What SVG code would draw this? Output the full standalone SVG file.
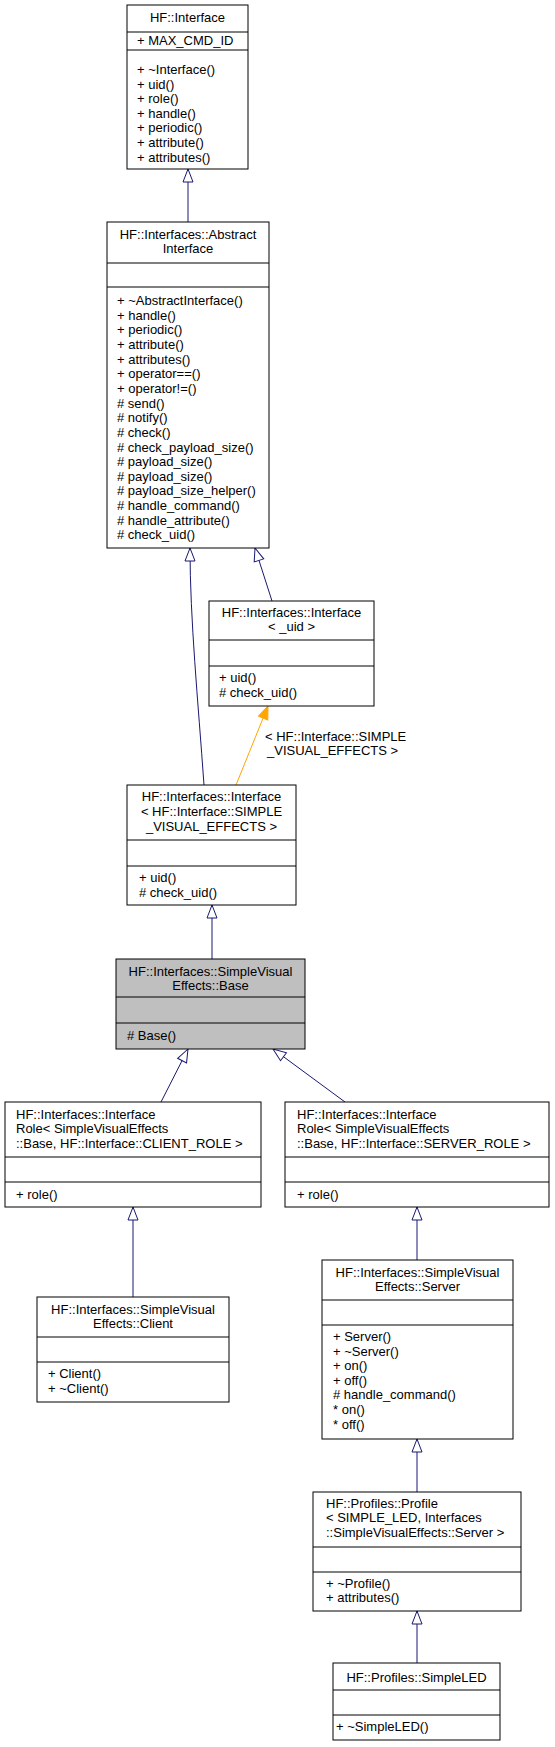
<svg xmlns="http://www.w3.org/2000/svg" width="555" height="1747" viewBox="0 0 555 1747">
<style>
.box{fill:#fff;stroke:#000;stroke-width:1}
.cur{fill:#bfbfbf;stroke:#000;stroke-width:1}
.div{stroke:#000;stroke-width:1}
text{font-family:"Liberation Sans",Arial,sans-serif;font-size:13px;fill:#000}
.c{text-anchor:middle}
.e{fill:none;stroke:#191970;stroke-width:1}
.o{fill:none;stroke:#ffa500;stroke-width:1}
</style>
<defs>
<marker id="ah" viewBox="-15 -7 16 14" refX="0" refY="0" markerWidth="16" markerHeight="14" orient="auto" markerUnits="userSpaceOnUse" overflow="visible">
<path d="M0,0 L-13,-5 L-13,5 Z" fill="#fff" stroke="#191970" stroke-width="1"/>
</marker>
<marker id="ao" viewBox="-15 -7 16 14" refX="0" refY="0" markerWidth="16" markerHeight="14" orient="auto" markerUnits="userSpaceOnUse" overflow="visible">
<path d="M0,0 L-13,-5 L-13,5 Z" fill="#ffa500" stroke="#ffa500" stroke-width="1"/>
</marker>
</defs>
<rect width="555" height="1747" fill="#fff"/>

<g id="connectors">
<path class="e" d="M188,222 L188,169" marker-end="url(#ah)"/>
<path class="e" d="M204,785 C198,700 190,620 190,548" marker-end="url(#ah)"/>
<path class="e" d="M272,601 L255,548" marker-end="url(#ah)"/>
<path class="o" d="M236,785 L268,706" marker-end="url(#ao)"/>
<text x="265" y="741">&lt; HF::Interface::SIMPLE</text>
<text x="267" y="755">_VISUAL_EFFECTS &gt;</text>
<path class="e" d="M212,959 L212,905" marker-end="url(#ah)"/>
<path class="e" d="M161,1102 L188,1049" marker-end="url(#ah)"/>
<path class="e" d="M345,1102 L273,1049" marker-end="url(#ah)"/>
<path class="e" d="M133,1297 L133,1207" marker-end="url(#ah)"/>
<path class="e" d="M417,1260 L417,1207" marker-end="url(#ah)"/>
<path class="e" d="M417,1492 L417,1439" marker-end="url(#ah)"/>
<path class="e" d="M417,1663 L417,1611" marker-end="url(#ah)"/>
</g>

<g id="hf_interface">
<rect class="box" x="127" y="5" width="121" height="164"/>
<line class="div" x1="127" y1="32" x2="248" y2="32"/>
<line class="div" x1="127" y1="50" x2="248" y2="50"/>
<text class="c" x="187.5" y="22">HF::Interface</text>
<text x="137" y="45">+ MAX_CMD_ID</text>
<text x="137" y="74">+ ~Interface()</text>
<text x="137" y="88.6">+ uid()</text>
<text x="137" y="103.2">+ role()</text>
<text x="137" y="117.8">+ handle()</text>
<text x="137" y="132.4">+ periodic()</text>
<text x="137" y="147">+ attribute()</text>
<text x="137" y="161.6">+ attributes()</text>
</g>

<g id="abstract_interface">
<rect class="box" x="107" y="222" width="162" height="326"/>
<line class="div" x1="107" y1="263" x2="269" y2="263"/>
<line class="div" x1="107" y1="287" x2="269" y2="287"/>
<text class="c" x="188" y="239">HF::Interfaces::Abstract</text>
<text class="c" x="188" y="253">Interface</text>
<text x="117" y="305">+ ~AbstractInterface()</text>
<text x="117" y="319.65">+ handle()</text>
<text x="117" y="334.3">+ periodic()</text>
<text x="117" y="348.95">+ attribute()</text>
<text x="117" y="363.6">+ attributes()</text>
<text x="117" y="378.25">+ operator==()</text>
<text x="117" y="392.9">+ operator!=()</text>
<text x="117" y="407.55"># send()</text>
<text x="117" y="422.2"># notify()</text>
<text x="117" y="436.85"># check()</text>
<text x="117" y="451.5"># check_payload_size()</text>
<text x="117" y="466.15"># payload_size()</text>
<text x="117" y="480.8"># payload_size()</text>
<text x="117" y="495.45"># payload_size_helper()</text>
<text x="117" y="510.1"># handle_command()</text>
<text x="117" y="524.75"># handle_attribute()</text>
<text x="117" y="539.4"># check_uid()</text>
</g>

<g id="interface_uid">
<rect class="box" x="209" y="601" width="165" height="105"/>
<line class="div" x1="209" y1="640" x2="374" y2="640"/>
<line class="div" x1="209" y1="666" x2="374" y2="666"/>
<text class="c" x="291.5" y="616.5">HF::Interfaces::Interface</text>
<text class="c" x="291.5" y="631">&lt; _uid &gt;</text>
<text x="219" y="681.5">+ uid()</text>
<text x="219" y="696.5"># check_uid()</text>
</g>

<g id="interface_sve">
<rect class="box" x="127" y="785" width="169" height="120"/>
<line class="div" x1="127" y1="840" x2="296" y2="840"/>
<line class="div" x1="127" y1="866" x2="296" y2="866"/>
<text class="c" x="211.5" y="800.5">HF::Interfaces::Interface</text>
<text class="c" x="211.5" y="816">&lt; HF::Interface::SIMPLE</text>
<text class="c" x="211.5" y="830.5">_VISUAL_EFFECTS &gt;</text>
<text x="139" y="881.5">+ uid()</text>
<text x="139" y="896.5"># check_uid()</text>
</g>

<g id="sve_base">
<rect class="cur" x="116" y="959" width="189" height="90"/>
<line class="div" x1="116" y1="997" x2="305" y2="997"/>
<line class="div" x1="116" y1="1023" x2="305" y2="1023"/>
<text class="c" x="210.5" y="976">HF::Interfaces::SimpleVisual</text>
<text class="c" x="210.5" y="990">Effects::Base</text>
<text x="127" y="1040"># Base()</text>
</g>

<g id="client_role">
<rect class="box" x="5" y="1102" width="256" height="105"/>
<line class="div" x1="5" y1="1157" x2="261" y2="1157"/>
<line class="div" x1="5" y1="1182" x2="261" y2="1182"/>
<text x="16" y="1118.5">HF::Interfaces::Interface</text>
<text x="16" y="1133">Role&lt; SimpleVisualEffects</text>
<text x="16" y="1147.5">::Base, HF::Interface::CLIENT_ROLE &gt;</text>
<text x="16" y="1199">+ role()</text>
</g>

<g id="server_role">
<rect class="box" x="285" y="1102" width="264" height="105"/>
<line class="div" x1="285" y1="1157" x2="549" y2="1157"/>
<line class="div" x1="285" y1="1182" x2="549" y2="1182"/>
<text x="297" y="1118.5">HF::Interfaces::Interface</text>
<text x="297" y="1133">Role&lt; SimpleVisualEffects</text>
<text x="297" y="1147.5">::Base, HF::Interface::SERVER_ROLE &gt;</text>
<text x="297" y="1199">+ role()</text>
</g>

<g id="sve_client">
<rect class="box" x="37" y="1297" width="192" height="105"/>
<line class="div" x1="37" y1="1337" x2="229" y2="1337"/>
<line class="div" x1="37" y1="1362" x2="229" y2="1362"/>
<text class="c" x="133" y="1314">HF::Interfaces::SimpleVisual</text>
<text class="c" x="133" y="1327.5">Effects::Client</text>
<text x="48" y="1378">+ Client()</text>
<text x="48" y="1392.5">+ ~Client()</text>
</g>

<g id="sve_server">
<rect class="box" x="322" y="1260" width="191" height="179"/>
<line class="div" x1="322" y1="1300" x2="513" y2="1300"/>
<line class="div" x1="322" y1="1325" x2="513" y2="1325"/>
<text class="c" x="417.5" y="1277">HF::Interfaces::SimpleVisual</text>
<text class="c" x="417.5" y="1291">Effects::Server</text>
<text x="333" y="1341">+ Server()</text>
<text x="333" y="1355.6">+ ~Server()</text>
<text x="333" y="1370.2">+ on()</text>
<text x="333" y="1384.8">+ off()</text>
<text x="333" y="1399.4"># handle_command()</text>
<text x="333" y="1414">* on()</text>
<text x="333" y="1428.6">* off()</text>
</g>

<g id="profile">
<rect class="box" x="313" y="1492" width="208" height="119"/>
<line class="div" x1="313" y1="1547" x2="521" y2="1547"/>
<line class="div" x1="313" y1="1572" x2="521" y2="1572"/>
<text x="326" y="1507.5">HF::Profiles::Profile</text>
<text x="326" y="1522">&lt; SIMPLE_LED, Interfaces</text>
<text x="326" y="1536.5">::SimpleVisualEffects::Server &gt;</text>
<text x="326" y="1587.5">+ ~Profile()</text>
<text x="326" y="1602">+ attributes()</text>
</g>

<g id="simple_led">
<rect class="box" x="333" y="1663" width="167" height="77"/>
<line class="div" x1="333" y1="1690" x2="500" y2="1690"/>
<line class="div" x1="333" y1="1715" x2="500" y2="1715"/>
<text class="c" x="416.5" y="1682">HF::Profiles::SimpleLED</text>
<text x="336" y="1731">+ ~SimpleLED()</text>
</g>
</svg>
